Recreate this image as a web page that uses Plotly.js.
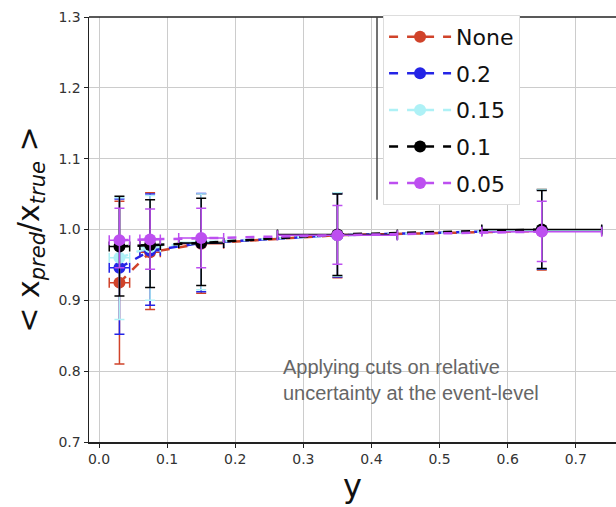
<!DOCTYPE html>
<html>
<head>
<meta charset="utf-8">
<script src="https://cdn.plot.ly/plotly-3.0.1.min.js"></script>
<style>html,body{margin:0;padding:0;background:#fff;}#chart{width:616px;height:507px;}</style>
</head>
<body>
<div id="chart"></div>
<script>
// x bin centres and half-widths
const xVals = [0.03, 0.075, 0.15, 0.35, 0.65];
const xErr = [0.015, 0.015, 0.033, 0.088, 0.088];

const seriesNames = ["None", "0.2", "0.15", "0.1", "0.05"];
const seriesColors = ["#d0432a", "#2424e6", "#aef1f6", "#000000", "#bd4ff0"];

const yNone = [0.925, 0.968, 0.980, 0.992, 0.998];
const yNoneLo = [0.810, 0.887, 0.910, 0.932, 0.943];
const yNoneHi = [1.040, 1.052, 1.050, 1.052, 1.057];

const y02 = [0.946, 0.970, 0.981, 0.992, 0.999];
const y02Lo = [0.852, 0.893, 0.912, 0.933, 0.944];
const y02Hi = [1.043, 1.050, 1.051, 1.051, 1.056];

const y015 = [0.960, 0.975, 0.982, 0.992, 0.999];
const y015Lo = [0.873, 0.900, 0.915, 0.934, 0.945];
const y015Hi = [1.045, 1.048, 1.050, 1.052, 1.057];

const y01 = [0.976, 0.978, 0.981, 0.993, 1.000];
const y01Lo = [0.906, 0.918, 0.921, 0.935, 0.945];
const y01Hi = [1.047, 1.042, 1.044, 1.050, 1.055];

const y005 = [0.985, 0.986, 0.988, 0.992, 0.997];
const y005Lo = [0.946, 0.944, 0.946, 0.951, 0.955];
const y005Hi = [1.030, 1.029, 1.030, 1.034, 1.040];

const xTicks = [0.0, 0.1, 0.2, 0.3, 0.4, 0.5, 0.6, 0.7];
const yTicks = [0.7, 0.8, 0.9, 1.0, 1.1, 1.2, 1.3];

const ys = [yNone, y02, y015, y01, y005];
const los = [yNoneLo, y02Lo, y015Lo, y01Lo, y005Lo];
const his = [yNoneHi, y02Hi, y015Hi, y01Hi, y005Hi];

const traces = seriesNames.map((name, i) => ({
  type: 'scatter',
  mode: 'lines+markers',
  name: name,
  legendgroup: 'g' + i,
  x: xVals,
  y: ys[i],
  line: {color: seriesColors[i], dash: 'dash', width: 2.5},
  marker: {color: seriesColors[i], size: 12},
  error_y: {
    type: 'data', symmetric: false,
    array: his[i].map((h, k) => h - ys[i][k]),
    arrayminus: ys[i].map((v, k) => v - los[i][k]),
    color: seriesColors[i], thickness: 1.5, width: 5
  },
  error_x: {
    type: 'data', array: xErr,
    color: seriesColors[i], thickness: 1.5, width: 5
  }
}));

const layout = {
  width: 616, height: 507,
  margin: {l: 89, r: 0, t: 17, b: 65},
  paper_bgcolor: '#fff', plot_bgcolor: '#fff',
  font: {family: 'DejaVu Sans', color: '#333'},
  showlegend: true,
  legend: {
    x: 0.558, y: 1.005, xanchor: 'left', yanchor: 'top',
    bgcolor: '#fff', bordercolor: '#dddddd', borderwidth: 1,
    font: {family: 'DejaVu Sans', size: 22, color: '#111'},
    tracegroupgap: 5, itemwidth: 62, entrywidth: 140, entrywidthmode: 'pixels'
  },
  xaxis: {
    range: [-0.0147, 0.759],
    tickvals: xTicks, ticktext: xTicks.map(v => v.toFixed(1)),
    showgrid: true, gridcolor: '#cccccc', gridwidth: 1,
    zeroline: false, showline: true, linecolor: '#222', linewidth: 1.5,
    ticks: 'outside', ticklen: 4, tickcolor: '#222',
    tickfont: {family: 'DejaVu Sans', size: 14, color: '#333'},
    title: {text: 'y', font: {family: 'DejaVu Sans', size: 32, color: '#111'}, standoff: 8}
  },
  yaxis: {
    range: [0.7, 1.3],
    tickvals: yTicks, ticktext: yTicks.map(v => v.toFixed(1)),
    showgrid: true, gridcolor: '#cccccc', gridwidth: 1,
    zeroline: false, showline: true, linecolor: '#222', linewidth: 1.5,
    ticks: 'outside', ticklen: 4, tickcolor: '#222',
    tickfont: {family: 'DejaVu Sans', size: 14, color: '#333'},
    title: {text: '&lt; x<sub><i>pred</i></sub>/x<sub><i>true</i></sub> &gt;', font: {family: 'DejaVu Sans', size: 30, color: '#111'}, standoff: 10}
  },
  shapes: [
    {type: 'line', xref: 'paper', yref: 'paper', x0: 0, x1: 1, y0: 1, y1: 1, line: {color: '#222', width: 1.5}},
    {type: 'line', xref: 'paper', yref: 'paper', x0: 0.5465, x1: 0.5465, y0: 1, y1: 0.57, line: {color: '#444', width: 1.5}}
  ],
  annotations: [{
    xref: 'paper', yref: 'paper', x: 0.364, y: 0.146, xanchor: 'left', yanchor: 'middle',
    align: 'left', showarrow: false,
    text: 'Applying cuts on relative<br>uncertainty at the event-level',
    font: {family: 'Liberation Sans', size: 20, color: '#666'}
  }]
};

Plotly.newPlot('chart', traces, layout, {displayModeBar: false, staticPlot: true});
</script>
</body>
</html>
